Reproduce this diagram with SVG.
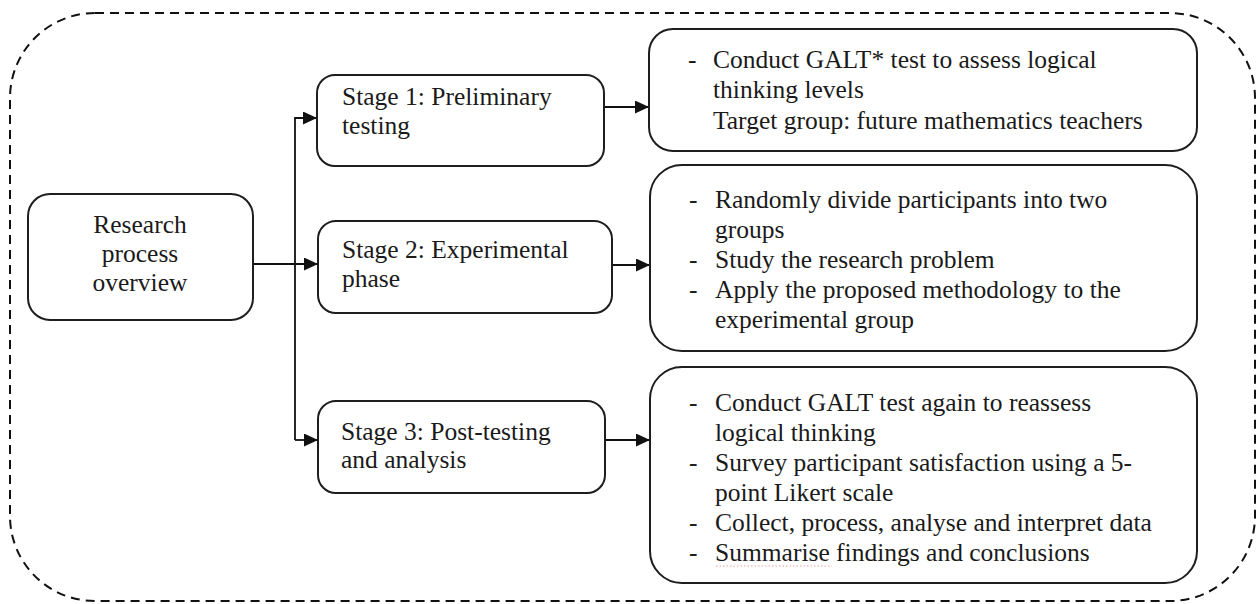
<svg xmlns="http://www.w3.org/2000/svg" width="1258" height="604" viewBox="0 0 1258 604">
  <defs>
    <marker id="arrow" markerUnits="userSpaceOnUse" markerWidth="14" markerHeight="13" refX="14" refY="6.5" orient="auto">
      <path d="M0,0 L14,6.5 L0,13 Z" fill="#111"/>
    </marker>
    <style>
      .box { fill: #fff; stroke: #1e1e1e; stroke-width: 2; }
      .conn { fill: none; stroke: #111; stroke-width: 1.8; }
      .t { font-family: "Liberation Serif", "Times New Roman", serif; font-size: 25.5px; fill: #1a1a1a; }
      .c { text-anchor: middle; }
    </style>
  </defs>
  <rect width="1258" height="604" fill="#fff"/>

  <g id="frame">
    <rect x="10" y="13" width="1245" height="588" rx="85" ry="85" fill="none" stroke="#111" stroke-width="2" stroke-dasharray="9 6"/>
  </g>

  <g id="connectors">
    <path class="conn" d="M295,440 V118 H317" marker-end="url(#arrow)"/>
    <path class="conn" d="M295,440 H318" marker-end="url(#arrow)"/>
    <path class="conn" d="M253,264 H318" marker-end="url(#arrow)"/>
    <path class="conn" d="M604,107 H649" marker-end="url(#arrow)"/>
    <path class="conn" d="M612,265 H650" marker-end="url(#arrow)"/>
    <path class="conn" d="M605,440 H650" marker-end="url(#arrow)"/>
  </g>

  <g id="overview">
    <rect class="box" x="28" y="194" width="225" height="126" rx="22"/>
    <text class="t c" x="140" y="233">Research</text>
    <text class="t c" x="140" y="262">process</text>
    <text class="t c" x="140" y="291">overview</text>
  </g>

  <g id="stage1">
    <rect class="box" x="317" y="75" width="287" height="91" rx="18"/>
    <text class="t" x="342" y="105">Stage 1: Preliminary</text>
    <text class="t" x="342" y="134">testing</text>
  </g>

  <g id="stage2">
    <rect class="box" x="318" y="221" width="294" height="92" rx="18"/>
    <text class="t" x="342" y="258">Stage 2: Experimental</text>
    <text class="t" x="342" y="287">phase</text>
  </g>

  <g id="stage3">
    <rect class="box" x="318" y="401" width="287" height="92" rx="18"/>
    <text class="t" x="341" y="440">Stage 3: Post-testing</text>
    <text class="t" x="341" y="468">and analysis</text>
  </g>

  <g id="result1">
    <rect class="box" x="649" y="29" width="548" height="122" rx="24"/>
    <text class="t" x="688" y="68">-</text>
    <text class="t" x="713" y="68">Conduct GALT* test to assess logical</text>
    <text class="t" x="713" y="98">thinking levels</text>
    <text class="t" x="713" y="129">Target group: future mathematics teachers</text>
  </g>

  <g id="result2">
    <rect class="box" x="650" y="165" width="547" height="186" rx="32"/>
    <text class="t" x="689" y="208">-</text>
    <text class="t" x="715" y="208">Randomly divide participants into two</text>
    <text class="t" x="715" y="238">groups</text>
    <text class="t" x="689" y="268">-</text>
    <text class="t" x="715" y="268">Study the research problem</text>
    <text class="t" x="689" y="298">-</text>
    <text class="t" x="715" y="298">Apply the proposed methodology to the</text>
    <text class="t" x="715" y="328">experimental group</text>
  </g>

  <g id="result3">
    <rect class="box" x="650" y="367" width="547" height="216" rx="32"/>
    <text class="t" x="689" y="411">-</text>
    <text class="t" x="715" y="411">Conduct GALT test again to reassess</text>
    <text class="t" x="715" y="441">logical thinking</text>
    <text class="t" x="689" y="471">-</text>
    <text class="t" x="715" y="471">Survey participant satisfaction using a 5-</text>
    <text class="t" x="715" y="501">point Likert scale</text>
    <text class="t" x="689" y="531">-</text>
    <text class="t" x="715" y="531">Collect, process, analyse and interpret data</text>
    <text class="t" x="689" y="561">-</text>
    <text class="t" x="715" y="561">Summarise findings and conclusions</text>
    <line x1="716" y1="566" x2="832" y2="566" stroke="#e9a0a0" stroke-width="1" stroke-dasharray="1.5 2"/>
  </g>
</svg>
